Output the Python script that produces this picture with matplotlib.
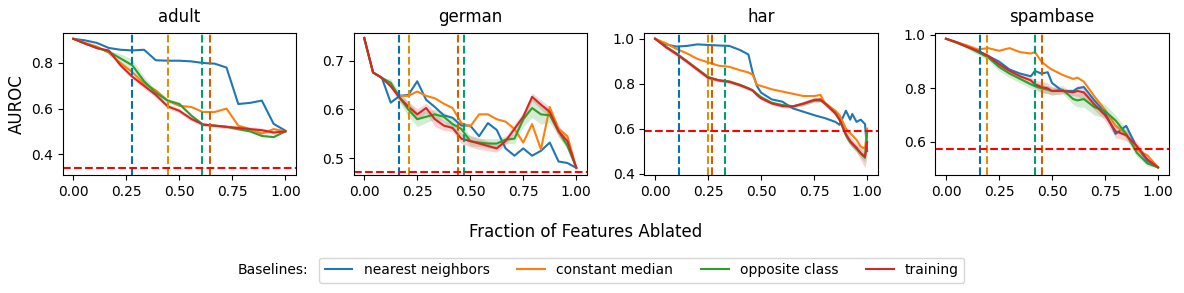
import numpy as np
import matplotlib.pyplot as plt

# ---- data ----
datasets = ["adult", "german", "har", "spambase"]
methods = ["nearest neighbors", "constant median", "opposite class", "training"]

# adult: 19 ablation steps
adult_x = np.linspace(0, 1, 19)
adult_nn = [0.906, 0.899, 0.888, 0.866, 0.858, 0.855, 0.858, 0.812, 0.810, 0.810,
            0.807, 0.800, 0.797, 0.780, 0.620, 0.625, 0.635, 0.533, 0.503]
adult_med = [0.906, 0.888, 0.872, 0.845, 0.800, 0.760, 0.710, 0.680, 0.635, 0.612,
             0.607, 0.585, 0.585, 0.600, 0.525, 0.510, 0.490, 0.510, 0.500]
adult_opp = [0.906, 0.885, 0.866, 0.850, 0.820, 0.790, 0.720, 0.670, 0.635, 0.620,
             0.570, 0.530, 0.525, 0.520, 0.510, 0.500, 0.480, 0.475, 0.500]
adult_train = [0.906, 0.885, 0.865, 0.855, 0.790, 0.740, 0.700, 0.660, 0.610, 0.590,
               0.555, 0.530, 0.525, 0.520, 0.515, 0.510, 0.505, 0.495, 0.500]
adult_opp_sd = [0, 0, 0, 0.005, 0.02, 0.025, 0.02, 0.01, 0.01, 0.008,
                0.005, 0.005, 0.004, 0.004, 0.004, 0.004, 0.004, 0.004, 0]
adult_train_sd = [0, 0, 0, 0.005, 0.01, 0.01, 0.012, 0.012, 0.01, 0.01,
                  0.01, 0.008, 0.008, 0.008, 0.01, 0.01, 0.01, 0.008, 0]

# german: 25 ablation steps
german_x = np.linspace(0, 1, 25)
german_nn = [0.747, 0.676, 0.665, 0.614, 0.628, 0.630, 0.658, 0.620, 0.605, 0.588,
             0.583, 0.567, 0.567, 0.545, 0.572, 0.558, 0.520, 0.505, 0.520, 0.505,
             0.515, 0.532, 0.493, 0.490, 0.480]
german_med = [0.747, 0.676, 0.665, 0.648, 0.628, 0.628, 0.637, 0.628, 0.623, 0.612,
              0.603, 0.572, 0.565, 0.590, 0.590, 0.580, 0.575, 0.560, 0.532, 0.570,
              0.518, 0.605, 0.560, 0.545, 0.480]
german_opp = [0.747, 0.676, 0.665, 0.655, 0.625, 0.600, 0.580, 0.585, 0.590, 0.585,
              0.570, 0.560, 0.535, 0.532, 0.530, 0.530, 0.538, 0.540, 0.580, 0.603,
              0.590, 0.588, 0.555, 0.525, 0.480]
german_train = [0.747, 0.676, 0.665, 0.648, 0.624, 0.606, 0.590, 0.603, 0.580, 0.567,
                0.562, 0.540, 0.535, 0.530, 0.525, 0.520, 0.535, 0.560, 0.585, 0.626,
                0.610, 0.595, 0.555, 0.535, 0.480]
german_opp_sd = [0, 0, 0, 0.008, 0.01, 0.015, 0.015, 0.012, 0.01, 0.01,
                 0.012, 0.012, 0.01, 0.008, 0.01, 0.01, 0.008, 0.01, 0.015, 0.02,
                 0.02, 0.015, 0.01, 0.008, 0]
german_train_sd = [0, 0, 0, 0.005, 0.008, 0.01, 0.012, 0.01, 0.015, 0.01,
                   0.008, 0.01, 0.012, 0.012, 0.01, 0.008, 0.008, 0.01, 0.01, 0.008,
                   0.01, 0.01, 0.012, 0.01, 0]

# har: many features, sampled positions
har_x = [0.0, 0.05, 0.10, 0.15, 0.20, 0.25, 0.30, 0.35, 0.40, 0.44, 0.46, 0.48,
         0.50, 0.55, 0.60, 0.65, 0.70, 0.75, 0.78, 0.80, 0.85, 0.87, 0.90, 0.92,
         0.93, 0.95, 0.97, 0.99, 1.0]
har_nn = [1.000, 0.975, 0.965, 0.968, 0.975, 0.972, 0.970, 0.968, 0.950, 0.930,
          0.850, 0.790, 0.760, 0.730, 0.720, 0.690, 0.675, 0.660, 0.652, 0.647,
          0.630, 0.617, 0.680, 0.640, 0.665, 0.630, 0.640, 0.620, 0.500]
har_med = [1.000, 0.980, 0.955, 0.935, 0.910, 0.895, 0.880, 0.875, 0.860, 0.850,
           0.840, 0.795, 0.790, 0.775, 0.765, 0.755, 0.745, 0.745, 0.750, 0.715,
           0.680, 0.660, 0.600, 0.580, 0.570, 0.550, 0.520, 0.510, 0.600]
har_opp = [1.000, 0.965, 0.935, 0.900, 0.865, 0.830, 0.815, 0.810, 0.795, 0.780,
           0.770, 0.755, 0.740, 0.715, 0.705, 0.700, 0.710, 0.725, 0.725, 0.715,
           0.670, 0.640, 0.570, 0.540, 0.530, 0.510, 0.490, 0.470, 0.580]
har_train = [1.000, 0.963, 0.932, 0.898, 0.862, 0.826, 0.815, 0.808, 0.793, 0.778,
             0.770, 0.750, 0.735, 0.712, 0.700, 0.698, 0.712, 0.728, 0.730, 0.712,
             0.668, 0.640, 0.575, 0.545, 0.535, 0.515, 0.490, 0.475, 0.540]
har_opp_sd = [0, 0.005, 0.006, 0.006, 0.006, 0.006, 0.006, 0.006, 0.006, 0.006,
              0.006, 0.006, 0.006, 0.006, 0.006, 0.006, 0.008, 0.008, 0.008, 0.008,
              0.01, 0.012, 0.015, 0.015, 0.015, 0.015, 0.02, 0.02, 0.02]
har_train_sd = [0, 0.008, 0.01, 0.01, 0.01, 0.008, 0.008, 0.008, 0.008, 0.008,
                0.008, 0.008, 0.008, 0.008, 0.008, 0.008, 0.01, 0.01, 0.01, 0.01,
                0.012, 0.015, 0.02, 0.02, 0.02, 0.02, 0.03, 0.05, 0.06]

# spambase: sampled positions
spam_x = [0.0, 0.05, 0.10, 0.15, 0.20, 0.25, 0.30, 0.35, 0.40, 0.42, 0.45, 0.48,
          0.50, 0.55, 0.60, 0.62, 0.65, 0.70, 0.75, 0.80, 0.85, 0.90, 0.95, 1.0]
spam_nn = [0.985, 0.972, 0.955, 0.940, 0.920, 0.900, 0.870, 0.855, 0.845, 0.865,
           0.855, 0.860, 0.820, 0.790, 0.790, 0.800, 0.805, 0.755, 0.710, 0.630,
           0.660, 0.580, 0.530, 0.505]
spam_med = [0.985, 0.972, 0.960, 0.945, 0.950, 0.940, 0.950, 0.935, 0.930, 0.935,
            0.900, 0.880, 0.870, 0.850, 0.835, 0.840, 0.825, 0.770, 0.720, 0.660,
            0.630, 0.570, 0.550, 0.505]
spam_opp = [0.985, 0.970, 0.955, 0.935, 0.915, 0.880, 0.855, 0.835, 0.815, 0.808,
            0.800, 0.795, 0.790, 0.795, 0.760, 0.755, 0.760, 0.730, 0.715, 0.680,
            0.630, 0.560, 0.520, 0.505]
spam_train = [0.985, 0.972, 0.955, 0.940, 0.920, 0.890, 0.865, 0.845, 0.830, 0.815,
              0.805, 0.800, 0.790, 0.790, 0.785, 0.790, 0.785, 0.740, 0.700, 0.640,
              0.625, 0.585, 0.535, 0.505]
spam_opp_sd = [0, 0.004, 0.008, 0.01, 0.012, 0.015, 0.015, 0.015, 0.015, 0.015,
               0.015, 0.015, 0.015, 0.015, 0.02, 0.025, 0.03, 0.03, 0.025, 0.02,
               0.02, 0.015, 0.01, 0]
spam_train_sd = [0, 0.003, 0.005, 0.006, 0.008, 0.01, 0.01, 0.012, 0.012, 0.015,
                 0.02, 0.02, 0.015, 0.01, 0.012, 0.02, 0.025, 0.02, 0.02, 0.025,
                 0.02, 0.015, 0.01, 0]

# reference lines: random-baseline AUROC and per-method cut-off fractions
random_auroc = [0.340, 0.472, 0.588, 0.575]
cutoff_nn = [0.275, 0.165, 0.115, 0.162]
cutoff_med = [0.445, 0.210, 0.250, 0.195]
cutoff_opp = [0.605, 0.470, 0.330, 0.420]
cutoff_train = [0.645, 0.443, 0.270, 0.455]

ylims = [(0.309, 0.931), (0.4655, 0.757), (0.394, 1.025), (0.477, 1.006)]
yticks = [[0.4, 0.6, 0.8], [0.5, 0.6, 0.7], [0.4, 0.6, 0.8, 1.0], [0.6, 0.8, 1.0]]

xs = [adult_x, german_x, har_x, spam_x]
series = [
    [adult_nn, adult_med, adult_opp, adult_train],
    [german_nn, german_med, german_opp, german_train],
    [har_nn, har_med, har_opp, har_train],
    [spam_nn, spam_med, spam_opp, spam_train],
]
bands = [
    [adult_opp_sd, adult_train_sd],
    [german_opp_sd, german_train_sd],
    [har_opp_sd, har_train_sd],
    [spam_opp_sd, spam_train_sd],
]

line_colors = ["#1f77b4", "#ff7f0e", "#2ca02c", "#d62728"]
vline_colors = ["#0173b2", "#de8f05", "#029e73", "#d55e00"]

fig, axes = plt.subplots(1, 4, figsize=(11.84, 2.93), dpi=100)
fig.subplots_adjust(left=0.053, right=0.987, top=0.887, bottom=0.403, wspace=0.247)

for i, ax in enumerate(axes):
    x = np.array(xs[i])
    handles = []
    for j in range(4):
        y = np.array(series[i][j])
        h, = ax.plot(x, y, color=line_colors[j], lw=1.5, label=methods[j])
        handles.append(h)
        if j >= 2:
            sd = np.array(bands[i][j - 2])
            ax.fill_between(x, y - sd, y + sd, color=line_colors[j], alpha=0.2, lw=0)
    cuts = [cutoff_nn[i], cutoff_med[i], cutoff_opp[i], cutoff_train[i]]
    for c, col in zip(cuts, vline_colors):
        ax.axvline(c, color=col, ls="--", lw=1.5)
    ax.axhline(random_auroc[i], color="red", ls="--", lw=1.5)
    ax.set_ylim(*ylims[i])
    ax.set_yticks(yticks[i])
    ax.set_xticks([0, 0.25, 0.5, 0.75, 1.0])
    ax.set_title(datasets[i], fontsize=12, pad=8)
    ax.tick_params(labelsize=10)

axes[0].set_ylabel("AUROC", fontsize=12)
fig.text(0.495, 0.208, "Fraction of Features Ablated", ha="center", va="center", fontsize=12)

leg = fig.legend(handles, methods, loc="center", ncol=4, bbox_to_anchor=(0.542, 0.078),
                 fontsize=10, columnspacing=2.0, handlelength=2.0)
fig.text(0.2605, 0.078, "Baselines:", ha="right", va="center", fontsize=10)

plt.savefig("out.png", dpi=100)
